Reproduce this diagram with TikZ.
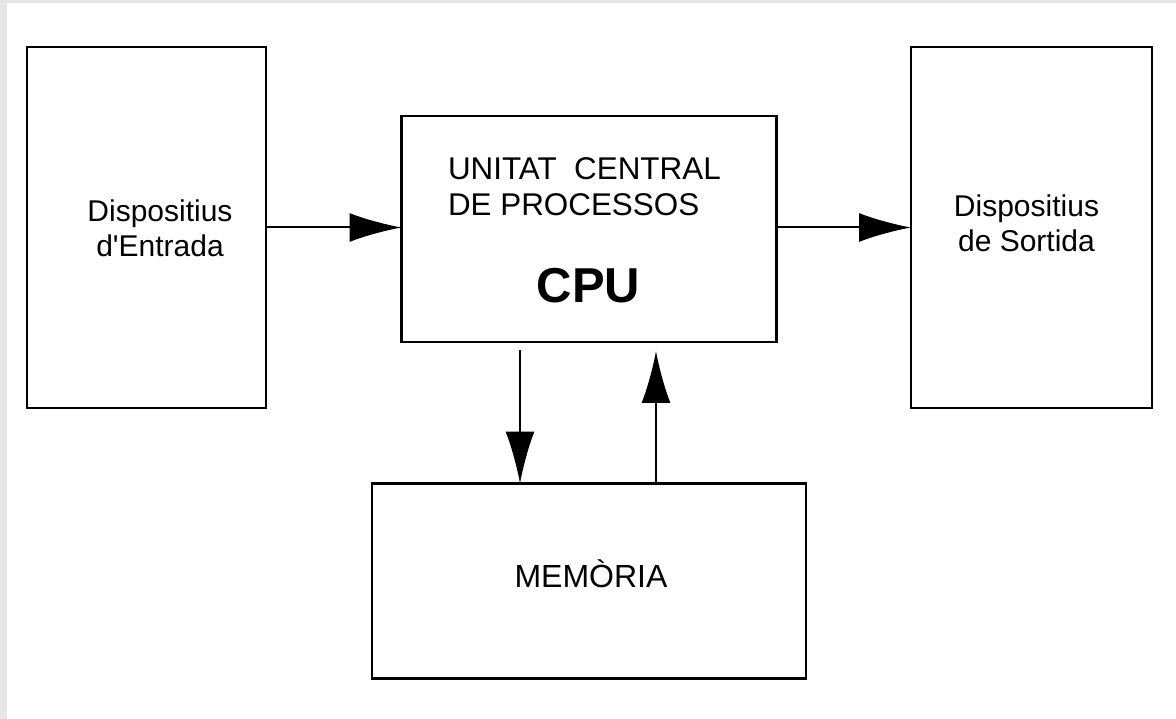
\documentclass[tikz,border=0pt]{standalone}
\usepackage{fontspec}
\setmainfont{Liberation Sans}[Ligatures=TeXOff]
\usetikzlibrary{arrows.meta}
\definecolor{framegray}{RGB}{230,230,230}
\tikzset{
  box/.style={draw=black, line width=2.6pt, fill=white, inner sep=0pt, outer sep=0pt},
  arr/.style={draw=black, line width=2pt, -{Latex[length=52pt,width=29pt]}},
  lbl/.style={inner sep=0pt, outer sep=0pt, font=\fontsize{30pt}{35pt}\selectfont},
}
\begin{document}
\begin{tikzpicture}[x=1pt,y=-1pt]
  \useasboundingbox (0,0) rectangle (1176,719);
  \fill[framegray] (0,0) rectangle (1176,719);
  \fill[white] (7,3) rectangle (1176,719);

  \node[box, minimum width=239pt, minimum height=361pt] (in)  at (146.5,227.5) {};
  \node[box, minimum width=241pt, minimum height=361pt] (out) at (1031.5,227.5) {};
  \node[box, minimum width=375pt, minimum height=226pt] (cpu) at (589,229) {};
  \node[box, minimum width=434pt, minimum height=195pt] (mem) at (589,581) {};

  \node[lbl, align=center, anchor=base] (tin) at (160,257) {Dispositius\\d'Entrada};
  \node[lbl, align=center, anchor=base] (tout) at (1026.5,252) {Dispositius\\de Sortida};
  \node[lbl, align=left, anchor=base west, font=\fontsize{31.4pt}{36pt}\selectfont] (tcpu) at (448,216) {UNITAT\ \ CENTRAL\\DE PROCESSOS};
  \node[lbl, anchor=base, font=\fontsize{49pt}{52pt}\selectfont\bfseries] (tcpub) at (588.5,303) {CPU};
  \node[lbl, anchor=base, font=\fontsize{32pt}{36pt}\selectfont] (tmem) at (591,587) {MEMÒRIA};

  \coordinate (dn) at (520,0);
  \coordinate (up) at (656,0);
  \coordinate (hy) at (0,227.5);

  \draw[arr] (in.east |- hy) -- (cpu.west |- hy);
  \draw[arr] (cpu.east |- hy) -- (out.west |- hy);
  \draw[arr, shorten <=8pt] (dn |- cpu.south) -- (dn |- mem.north);
  \draw[arr, shorten >=9pt] (up |- mem.north) -- (up |- cpu.south);
\end{tikzpicture}
\end{document}
